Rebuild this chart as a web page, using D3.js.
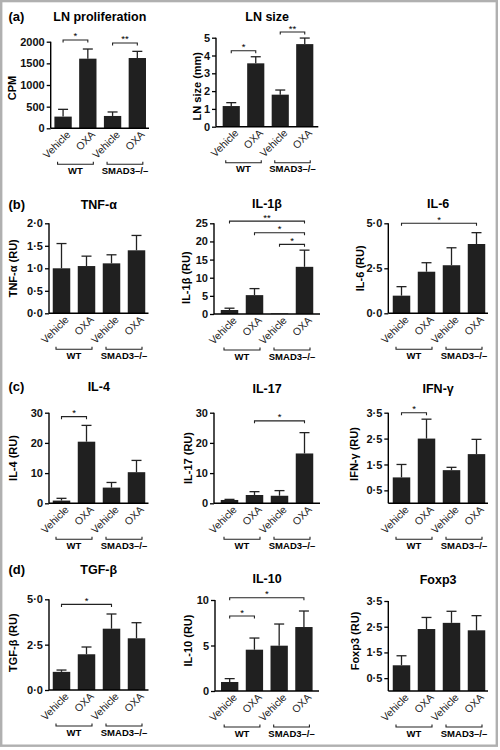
<!DOCTYPE html>
<html><head><meta charset="utf-8">
<script src="https://cdn.jsdelivr.net/npm/d3@7"></script>
<style>
html,body{margin:0;padding:0;background:#fff;}
svg{display:block;font-family:"Liberation Sans",Arial,Helvetica,sans-serif;}
</style></head>
<body><svg id="chart" width="500" height="750"></svg>
<script>
// ---------- data ----------
const conditions = ["Vehicle", "OXA", "Vehicle", "OXA"];
const groups = ["WT", "SMAD3\u2013/\u2013"];

const lnProlMean = [270, 1608, 285, 1623];
const lnProlErr  = [168, 223, 92, 154];
const lnProlTicks = [0, 500, 1000, 1500, 2000];

const lnSizeMean = [1.16, 3.56, 1.8, 4.64];
const lnSizeErr  = [0.19, 0.37, 0.26, 0.34];
const lnSizeTicks = [0, 1, 2, 3, 4, 5];

const tnfMean = [1.0, 1.05, 1.11, 1.4];
const tnfErr  = [0.55, 0.22, 0.19, 0.33];
const tnfTicks = [0, 0.5, 1.0, 1.5, 2.0];

const il1bMean = [1.1, 5.2, 0.15, 13.0];
const il1bErr  = [0.5, 1.8, 0, 4.6];
const il1bTicks = [0, 5, 10, 15, 20, 25];

const il6Mean = [0.98, 2.31, 2.67, 3.85];
const il6Err  = [0.5, 0.5, 0.97, 0.63];
const il6Ticks = [0, 2.5, 5.0];

const il4Mean = [0.9, 20.4, 5.2, 10.3];
const il4Err  = [0.75, 5.4, 1.7, 3.9];
const il4Ticks = [0, 10, 20, 30];

const il17Mean = [1.1, 2.75, 2.5, 16.5];
const il17Err  = [0.2, 1.1, 1.7, 6.9];
const il17Ticks = [0, 10, 20, 30];

const ifngMean = [1.0, 2.5, 1.28, 1.9];
const ifngErr  = [0.5, 0.75, 0.11, 0.57];
const ifngTicks = [0.5, 1.5, 2.5, 3.5];

const tgfbMean = [1.0, 1.97, 3.38, 2.85];
const tgfbErr  = [0.1, 0.4, 0.81, 0.86];
const tgfbTicks = [0, 2.5, 5.0];

const il10Mean = [0.99, 4.54, 4.98, 7.03];
const il10Err  = [0.37, 1.28, 2.38, 1.76];
const il10Ticks = [0, 5, 10];

const foxp3Mean = [1.0, 2.41, 2.65, 2.36];
const foxp3Err  = [0.37, 0.45, 0.45, 0.57];
const foxp3Ticks = [0.5, 1.5, 2.5, 3.5];

// significance: [from, to, label, level (data units)]
const lnProlSig = [[0, 1, "*", 2040], [2, 3, "**", 1970]];
const lnSizeSig = [[0, 1, "*", 4.27], [2, 3, "**", 5.32]];
const il1bSig = [[0, 3, "**", 25.6], [1, 3, "*", 22.4], [2, 3, "*", 19.2]];
const il6Sig = [[0, 3, "*", 5.0]];
const il4Sig = [[0, 1, "*", 28.7]];
const il17Sig = [[1, 3, "*", 27.3]];
const ifngSig = [[0, 1, "*", 3.5]];
const tgfbSig = [[0, 2, "*", 4.72]];
const il10Sig = [[0, 3, "*", 10.25], [0, 1, "*", 8.24]];

// ---------- layout ----------
const panels = [
  {title:"LN proliferation", ylab:"CPM", mean:lnProlMean, err:lnProlErr, ticks:lnProlTicks, max:2000, sig:lnProlSig, dec:false,
   ax:50.7, bs:50.7, bw:99, end:149, top:41.7, bot:128.3, ty:20.5, lx:16, lshift:3},
  {title:"LN size", ylab:"LN size (mm)", mean:lnSizeMean, err:lnSizeErr, ticks:lnSizeTicks, max:5, sig:lnSizeSig, dec:false,
   ax:216, bs:219, bw:98, end:318.3, top:37.7, bot:126.7, ty:20.5, lx:200.5, lshift:4},
  {title:"TNF-\u03b1", ylab:"TNF-\u03b1 (RU)", mean:tnfMean, err:tnfErr, ticks:tnfTicks, max:2.0, sig:[], dec:true,
   ax:49, bs:49, bw:100, end:148.5, top:223.3, bot:313.3, ty:208.5, lx:17, lshift:0},
  {title:"IL-1\u03b2", ylab:"IL-1\u03b2 (RU)", mean:il1bMean, err:il1bErr, ticks:il1bTicks, max:25, sig:il1bSig, dec:false,
   ax:214, bs:217, bw:100, end:320, top:223.3, bot:314, ty:208, lx:189.5, lshift:9},
  {title:"IL-6", ylab:"IL-6 (RU)", mean:il6Mean, err:il6Err, ticks:il6Ticks, max:5.0, sig:il6Sig, dec:true,
   ax:388.3, bs:389, bw:100, end:488, top:223.3, bot:313.3, ty:207.5, lx:364, lshift:0},
  {title:"IL-4", ylab:"IL-4 (RU)", mean:il4Mean, err:il4Err, ticks:il4Ticks, max:30, sig:il4Sig, dec:false,
   ax:49, bs:49, bw:100, end:148.5, top:412.7, bot:503.3, ty:391.3, lx:17.3, lshift:0},
  {title:"IL-17", ylab:"IL-17 (RU)", mean:il17Mean, err:il17Err, ticks:il17Ticks, max:30, sig:il17Sig, dec:false,
   ax:214, bs:217, bw:100, end:320, top:412.7, bot:503.3, ty:393, lx:192.3, lshift:0},
  {title:"IFN-\u03b3", ylab:"IFN-\u03b3 (RU)", mean:ifngMean, err:ifngErr, ticks:ifngTicks, max:3.5, sig:ifngSig, dec:true,
   ax:388.3, bs:389, bw:100, end:488, top:412.7, bot:503.3, ty:393, lx:358, lshift:-4},
  {title:"TGF-\u03b2", ylab:"TGF-\u03b2 (RU)", mean:tgfbMean, err:tgfbErr, ticks:tgfbTicks, max:5.0, sig:tgfbSig, dec:true,
   ax:49, bs:49, bw:100, end:148.5, top:599.3, bot:690, ty:574, lx:17, lshift:-2},
  {title:"IL-10", ylab:"IL-10 (RU)", mean:il10Mean, err:il10Err, ticks:il10Ticks, max:10, sig:il10Sig, dec:false,
   ax:215, bs:217.3, bw:99, end:319, top:600, bot:691, ty:583, lx:192.3, lshift:-5},
  {title:"Foxp3", ylab:"Foxp3 (RU)", mean:foxp3Mean, err:foxp3Err, ticks:foxp3Ticks, max:3.5, sig:[], dec:true,
   ax:388.3, bs:389, bw:100, end:488, top:601, bot:691, ty:583.5, lx:359, lshift:-5}
];
const panelLetters = [["(a)", 20.5], ["(b)", 208.5], ["(c)", 391.3], ["(d)", 574]];

const svg = d3.select("#chart");
svg.append("rect").attr("x", 1.2).attr("y", 1.1).attr("width", 495.6).attr("height", 744.6)
  .attr("fill", "#fff").attr("stroke", "#b0b0b0").attr("stroke-width", 2.4);

panelLetters.forEach(([t, y]) => {
  svg.append("text").attr("x", 8.5).attr("y", y).attr("font-size", 13).attr("font-weight", "bold").text(t);
});

const fmtDec = v => d3.format(".1f")(v).replace(".", "\u00b7");

panels.forEach(p => {
  const g = svg.append("g");
  const x = d3.scaleBand().domain(d3.range(conditions.length)).range([p.bs, p.bs + p.bw])
    .paddingInner(0.3).paddingOuter(0.15);
  const y = d3.scaleLinear().domain([0, p.max]).range([p.bot, p.top]);
  const cx = i => x(i) + x.bandwidth() / 2;

  // bars
  g.selectAll("rect.bar").data(p.mean).join("rect")
    .attr("x", (d, i) => x(i)).attr("width", x.bandwidth())
    .attr("y", d => y(d)).attr("height", d => p.bot - y(d))
    .attr("fill", "#202020");
  // error bars (upper only)
  p.mean.forEach((m, i) => {
    const e = p.err[i];
    if (e <= 0) return;
    g.append("line").attr("x1", cx(i)).attr("x2", cx(i)).attr("y1", y(m)).attr("y2", y(m + e))
      .attr("stroke", "#222").attr("stroke-width", 1.3);
    g.append("line").attr("x1", cx(i) - 5).attr("x2", cx(i) + 5).attr("y1", y(m + e)).attr("y2", y(m + e))
      .attr("stroke", "#222").attr("stroke-width", 1.3);
  });

  // y axis
  const yAxis = d3.axisLeft(y).tickValues(p.ticks).tickSize(4).tickPadding(2)
    .tickFormat(p.dec ? fmtDec : d3.format("d"));
  const ya = g.append("g").attr("transform", `translate(${p.ax},0)`).call(yAxis);
  ya.select(".domain").remove();
  ya.selectAll(".tick line").attr("stroke", "#000").attr("stroke-width", 1.3);
  ya.selectAll(".tick text").attr("font-size", 11).attr("font-weight", "bold")
    .attr("fill", "#111").attr("font-family", "Liberation Sans, Arial, sans-serif");
  g.append("line").attr("x1", p.ax).attr("x2", p.ax).attr("y1", y(p.max)).attr("y2", p.bot)
    .attr("stroke", "#000").attr("stroke-width", 1.4);
  // x axis line
  g.append("line").attr("x1", p.ax).attr("x2", p.end).attr("y1", p.bot).attr("y2", p.bot)
    .attr("stroke", "#000").attr("stroke-width", 1.4);

  // x labels rotated
  conditions.forEach((c, i) => {
    g.append("text").attr("transform", `translate(${cx(i) + 8},${p.bot + 7}) rotate(-45)`)
      .attr("text-anchor", "end").attr("font-size", 10.5).attr("fill", "#222").text(c);
  });

  // group brackets
  [[0, 1], [2, 3]].forEach(([a, b], gi) => {
    const x1 = cx(a) - 5.5, x2 = cx(b) + 5.5, yb = p.bot + 36;
    g.append("path").attr("d", `M${x1},${yb - 2.5}V${yb}H${x2}V${yb - 2.5}`)
      .attr("fill", "none").attr("stroke", "#222").attr("stroke-width", 1.1);
    g.append("text").attr("x", (x1 + x2) / 2).attr("y", p.bot + 45.5).attr("text-anchor", "middle")
      .attr("font-size", 9.5).attr("font-weight", "bold").text(groups[gi]);
  });

  // significance brackets
  p.sig.forEach(([a, b, lab, lev]) => {
    const yy = y(lev), x1 = cx(a), x2 = cx(b);
    g.append("path").attr("d", `M${x1},${yy + 2.5}V${yy}H${x2}V${yy + 2.5}`)
      .attr("fill", "none").attr("stroke", "#222").attr("stroke-width", 1.1);
    g.append("text").attr("x", (x1 + x2) / 2).attr("y", yy - 0.5).attr("text-anchor", "middle")
      .attr("font-size", 9.5).text(lab);
  });

  // title
  g.append("text").attr("x", (p.ax + p.end) / 2).attr("y", p.ty).attr("text-anchor", "middle")
    .attr("font-size", 12.5).attr("font-weight", "bold").text(p.title);
  // y label
  const ly = (p.top + p.bot) / 2 + p.lshift;
  g.append("text").attr("transform", `translate(${p.lx},${ly}) rotate(-90)`)
    .attr("text-anchor", "middle").attr("font-size", 11).attr("font-weight", "bold").text(p.ylab);
});
</script></body></html>
